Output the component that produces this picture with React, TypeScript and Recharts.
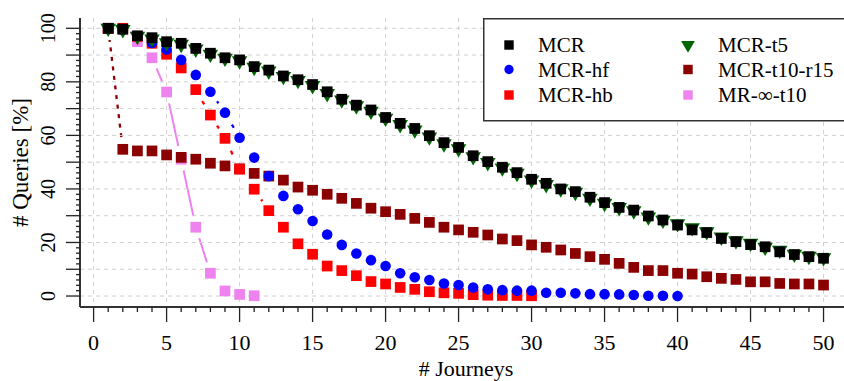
import React from "react";
import {
  ComposedChart,
  Line,
  Scatter,
  XAxis,
  YAxis,
  CartesianGrid,
  Legend,
} from "recharts";

const FONT = '"Liberation Serif", "Times New Roman", serif';

// x positions: journeys 1..50
const journeys = Array.from({ length: 50 }, (_, i) => i + 1);
const xTicks = Array.from({ length: 51 }, (_, i) => i);
const yTicks = Array.from({ length: 51 }, (_, i) => i * 2);
const xGrid = [0, 5, 10, 15, 20, 25, 30, 35, 40, 45, 50];
const yGrid = [0, 10, 20, 30, 40, 50, 60, 70, 80, 90, 100];

// % of queries with at least n journeys
const mcr = [
  100, 99.7, 97.2, 96.5, 95.0, 94.4, 92.5, 90.7, 89.0, 88.2,
  85.7, 84.4, 82.2, 80.8, 79.0, 76.3, 73.5, 71.3, 69.5, 66.7,
  64.5, 62.6, 59.9, 57.3, 55.5, 52.4, 50.2, 48.1, 46.1, 43.6,
  42.1, 40.0, 39.0, 36.9, 34.9, 33.1, 32.1, 29.9, 28.4, 26.5,
  24.7, 23.7, 21.5, 20.3, 19.2, 18.4, 16.5, 15.5, 14.7, 14.1,
];
const mcrT5 = [
  100, 99.5, 97.0, 96.0, 94.6, 94.0, 92.2, 90.3, 88.8, 87.8,
  85.4, 84.0, 82.0, 80.5, 78.6, 75.6, 73.2, 71.0, 69.0, 66.4,
  64.0, 62.0, 59.4, 56.8, 55.0, 52.0, 49.8, 47.8, 45.8, 43.3,
  41.6, 40.0, 38.7, 36.5, 34.6, 33.0, 31.8, 29.5, 28.3, 27.0,
  25.5, 24.0, 22.0, 20.6, 19.7, 18.2, 17.1, 15.6, 14.8, 14.3,
];
const mcrHf = [
  100, 99.5, 97.0, 94.5, 92.1, 88.2, 82.6, 76.3, 68.5, 59.1,
  51.7, 44.8, 37.4, 32.4, 28.0, 23.0, 19.1, 15.9, 13.4, 11.2,
  8.5, 7.0, 6.0, 4.7, 4.1, 3.2, 2.5, 2.2, 2.0, 2.0,
  1.2, 1.2, 1.0, 0.7, 0.7, 0.6, 0.4, 0.1, 0.1, 0.0,
];
const mcrHb = [
  100, 100, 97.0, 94.4, 90.3, 85.2, 77.1, 67.6, 58.9, 47.4,
  39.9, 31.9, 25.7, 19.5, 15.6, 11.2, 9.5, 7.6, 5.4, 4.5,
  3.2, 2.5, 1.6, 1.2, 1.0, 0.5, 0.3, 0.2, 0.2, 0.1,
];
const mcrT10R15 = [
  100, 54.8, 54.2, 54.2, 52.7, 51.8, 51.1, 49.6, 48.6, 47.5,
  45.8, 44.8, 43.3, 40.7, 39.5, 38.0, 36.5, 34.6, 32.8, 31.5,
  30.5, 29.0, 27.5, 25.7, 24.7, 23.8, 22.8, 21.3, 20.7, 19.1,
  18.2, 17.2, 15.9, 14.7, 13.7, 12.2, 10.7, 9.5, 9.5, 8.5,
  8.2, 7.2, 6.6, 6.2, 5.3, 5.3, 4.7, 4.5, 4.5, 4.1,
];
const mrInfT10 = [100, 99.5, 95.0, 89.0, 76.2, 51.1, 25.7, 8.5, 1.9, 0.6, 0.1];

type Mark = "square" | "circle" | "triangle";
interface SeriesDef {
  name: string;
  values: number[];
  color: string;
  mark: Mark;
  dash?: string;
}

// drawing order: bottom first, MCR on top
const series: SeriesDef[] = [
  { name: "MR-\u221e-t10", values: mrInfT10, color: "#ee82ee", mark: "square" },
  { name: "MCR-t10-r15", values: mcrT10R15, color: "#8b0000", mark: "square", dash: "4 5.6" },
  { name: "MCR-hb", values: mcrHb, color: "#ff0000", mark: "square", dash: "4 5.6" },
  { name: "MCR-hf", values: mcrHf, color: "#0000ff", mark: "circle", dash: "4 5.6" },
  { name: "MCR-t5", values: mcrT5, color: "#006400", mark: "triangle", dash: "4 5.6" },
  { name: "MCR", values: mcr, color: "#000000", mark: "square", dash: "4 5.6" },
];

const legendCols = [
  ["MCR", "MCR-hf", "MCR-hb"],
  ["MCR-t5", "MCR-t10-r15", "MR-\u221e-t10"],
];

const toPoints = (vals: number[]) => vals.map((y, i) => ({ x: journeys[i], y }));
const allPoints = series.flatMap((s) => toPoints(s.values));

function marker(kind: Mark, color: string, cx: number, cy: number, k = 1) {
  if (kind === "circle") return <circle cx={cx} cy={cy} r={5.3 * k} fill={color} />;
  if (kind === "triangle") {
    const pts = `${cx - 7.8 * k},${cy - 4.6 * k} ${cx + 7.8 * k},${cy - 4.6 * k} ${cx},${cy + 8.8 * k}`;
    return <polygon points={pts} fill={color} />;
  }
  const s = 10.7 * k;
  return <rect x={cx - s / 2} y={cy - s / 2} width={s} height={s} fill={color} />;
}

const XTick = (props: any) => {
  const { x, y, payload } = props;
  const v = payload.value;
  const major = v % 5 === 0;
  return (
    <g>
      <line x1={x} x2={x} y1={y} y2={y + (major ? 15 : 5)} stroke="#222" strokeWidth={1.3} />
      {major && (
        <text x={x} y={y + 43} textAnchor="middle" fontSize={22} fontFamily={FONT} fill="#000">
          {v}
        </text>
      )}
    </g>
  );
};

const YTick = (props: any) => {
  const { x, y, payload } = props;
  const v = payload.value;
  const major = v % 10 === 0;
  return (
    <g>
      <line x1={x - (major ? 14 : 4)} x2={x} y1={y} y2={y} stroke="#222" strokeWidth={1.3} />
      {v % 20 === 0 && (
        <text
          x={55}
          y={y}
          transform={`rotate(-90, 55, ${y})`}
          textAnchor="middle"
          fontSize={20}
          fontFamily={FONT}
          fill="#000"
        >
          {v}
        </text>
      )}
    </g>
  );
};

function LegendBox() {
  const rows = [27, 51.5, 77];
  const colX = [26, 205];
  const textX = [55, 235];
  return (
    <svg width={380} height={104} style={{ display: "block" }}>
      <rect x={0.75} y={0.75} width={390} height={102} fill="#fff" stroke="#333" strokeWidth={1.5} />
      {legendCols.map((col, ci) =>
        col.map((name, ri) => {
          const s = series.find((d) => d.name === name)!;
          return (
            <g key={name}>
              {marker(s.mark, s.color, colX[ci], rows[ri], 0.88)}
              <text x={textX[ci]} y={rows[ri] + 7} fontSize={21} fontFamily={FONT} fill="#000">
                {name}
              </text>
            </g>
          );
        })
      )}
    </svg>
  );
}

export default function App() {
  return (
    <div
      style={{
        position: "absolute",
        left: 0,
        top: 0,
        width: 844,
        height: 381,
        overflow: "hidden",
        background: "#fff",
      }}
    >
      <ComposedChart width={852} height={381} margin={{ top: 18, right: 0, bottom: 0, left: 0 }}>
        {/* connecting lines */}
        {series.map((s) => (
          <Line
            key={"l" + s.name}
            data={toPoints(s.values)}
            dataKey="y"
            stroke={s.color}
            strokeWidth={s.dash ? 2.3 : 2}
            strokeDasharray={s.dash}
            dot={false}
            activeDot={false}
            legendType="none"
            isAnimationActive={false}
          />
        ))}
        {/* gaps around points, like type="b" */}
        <Scatter
          data={allPoints}
          dataKey="y"
          zIndex={420}
          legendType="none"
          shape={(p: any) => <circle cx={p.cx} cy={p.cy} r={11.5} fill="#fff" />}
          isAnimationActive={false}
        />
        <CartesianGrid
          zIndex={450}
          horizontalValues={yGrid}
          verticalValues={xGrid}
          stroke="#d0d0d0"
          strokeDasharray="4 4"
        />
        {series.map((s) => (
          <Scatter
            key={"s" + s.name}
            name={s.name}
            data={toPoints(s.values)}
            dataKey="y"
            shape={(p: any) => marker(s.mark, s.color, p.cx, p.cy)}
            isAnimationActive={false}
          />
        ))}
        <XAxis
          dataKey="x"
          type="number"
          domain={[-0.932, 51.95]}
          allowDataOverflow
          ticks={xTicks}
          interval={0}
          height={74}
          tickSize={0}
          tickMargin={0}
          tickLine={false}
          tick={XTick}
          axisLine={{ stroke: "#333", strokeWidth: 2 }}
          label={(p: any) => {
            const vb = p.viewBox;
            return (
              <text x={vb.x + vb.width / 2} y={375.5} textAnchor="middle" fontSize={22} fontFamily={FONT} fill="#000">
                # Journeys
              </text>
            );
          }}
        />
        <XAxis
          xAxisId="top"
          orientation="top"
          dataKey="x"
          type="number"
          domain={[-0.932, 51.95]}
          allowDataOverflow
          height={0}
          tick={false}
          tickLine={false}
          axisLine={{ stroke: "#555", strokeWidth: 1.5 }}
        />
        <YAxis
          dataKey="y"
          type="number"
          domain={[-4.1, 103.85]}
          allowDataOverflow
          ticks={yTicks}
          interval={0}
          width={80}
          tickSize={0}
          tickMargin={0}
          tickLine={false}
          tick={YTick}
          axisLine={{ stroke: "#333", strokeWidth: 2 }}
          label={(p: any) => {
            const vb = p.viewBox;
            const cy = vb.y + vb.height / 2;
            return (
              <text
                x={28}
                y={cy}
                transform={`rotate(-90, 28, ${cy})`}
                textAnchor="middle"
                fontSize={23}
                fontFamily={FONT}
                fill="#000"
              >
                # Queries [%]
              </text>
            );
          }}
        />
        <Legend
          layout="horizontal"
          verticalAlign="middle"
          align="center"
          wrapperStyle={{ position: "absolute", left: 483, top: 18, width: 380, height: 104, margin: 0 }}
          content={() => <LegendBox />}
        />
      </ComposedChart>
    </div>
  );
}
